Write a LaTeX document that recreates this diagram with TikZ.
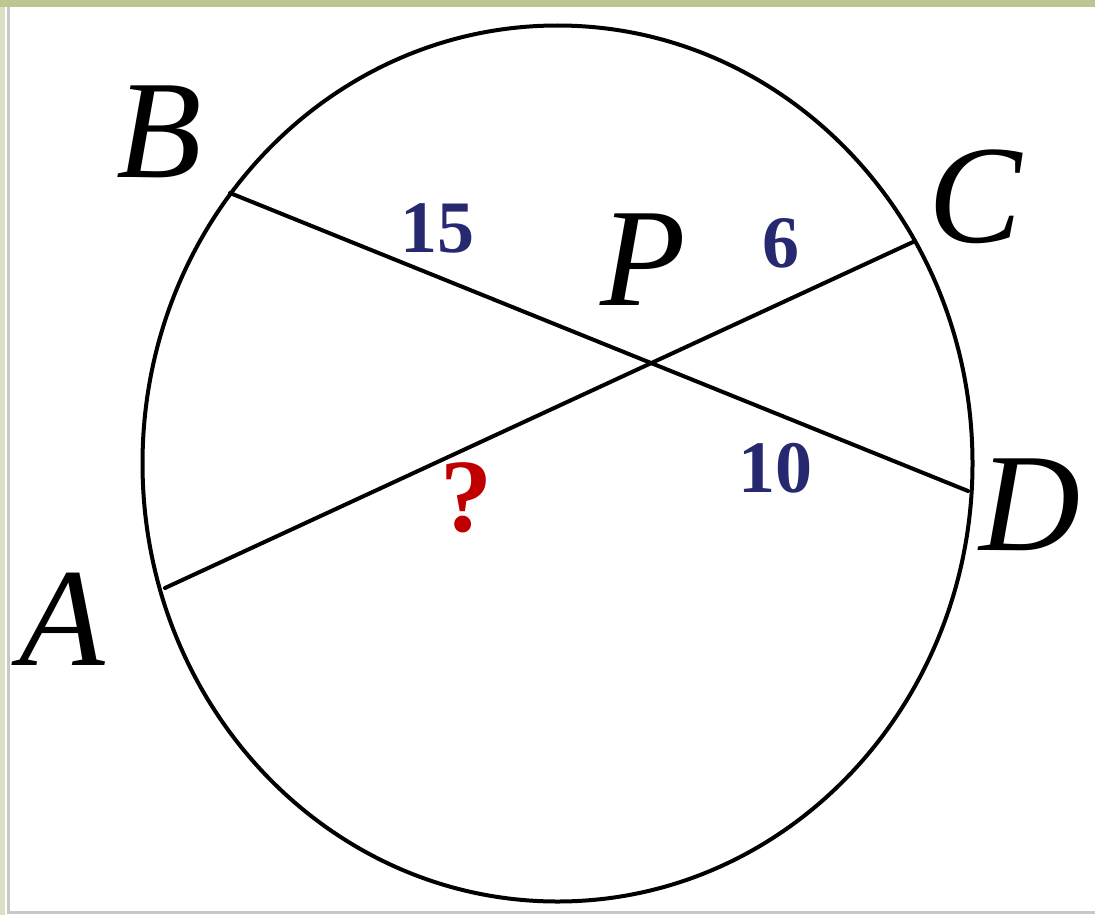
\documentclass[tikz,border=0pt]{standalone}
\usepackage{fontspec}
\setmainfont{Liberation Serif}
\usetikzlibrary{calc,intersections}
\definecolor{numblue}{RGB}{38,40,112}
\definecolor{qred}{RGB}{192,0,0}
\definecolor{framegreen}{RGB}{188,198,145}
\definecolor{framegray}{RGB}{200,200,200}
\begin{document}
\begin{tikzpicture}[x=0.5pt,y=-0.5pt,
  chord/.style={line width=2pt,line cap=round},
  ptlabel/.style={inner sep=0pt,anchor=base,font=\fontsize{70}{72}\selectfont\itshape},
  numlabel/.style={inner sep=0pt,anchor=base,text=numblue,font=\fontsize{37}{40}\selectfont\bfseries},
  qlabel/.style={inner sep=0pt,anchor=base,text=qred,font=\fontsize{52}{54}\selectfont\bfseries}]
\useasboundingbox (0,0) rectangle (1095,915);
\fill[white] (0,0) rectangle (1095,915);
% frame
\fill[framegreen!55] (0,0) rectangle (5,915);
\draw[framegray,line width=1.5pt] (8,7) -- (8,912) -- (1095,912);
\fill[framegreen] (0,0) rectangle (1095,7);
% circle
\draw[chord] (557.5,463.5) ellipse [x radius=415, y radius=438];
% chord end points
\coordinate (B) at (230,193);
\coordinate (C) at (913,242);
\coordinate (D) at (968,491);
\coordinate (A) at (165,588);
\draw[chord] (B) -- (D);
\draw[chord] (A) -- (C);
% labels
\node[ptlabel] (lB) at (159,177) {B};
\node[ptlabel] (lC) at (975,242) {C};
\node[ptlabel] (lD) at (1030,550) {D};
\node[ptlabel] (lA) at (62,665) {A};
\node[ptlabel] (lP) at (643,305) {P};
\node[numlabel] (n15) at (437,252) {15};
\node[numlabel] (n6) at (781,267) {6};
\node[numlabel] (n10) at (775,492) {10};
\node[qlabel] (q) at (466,531) {?};
\end{tikzpicture}
\end{document}
